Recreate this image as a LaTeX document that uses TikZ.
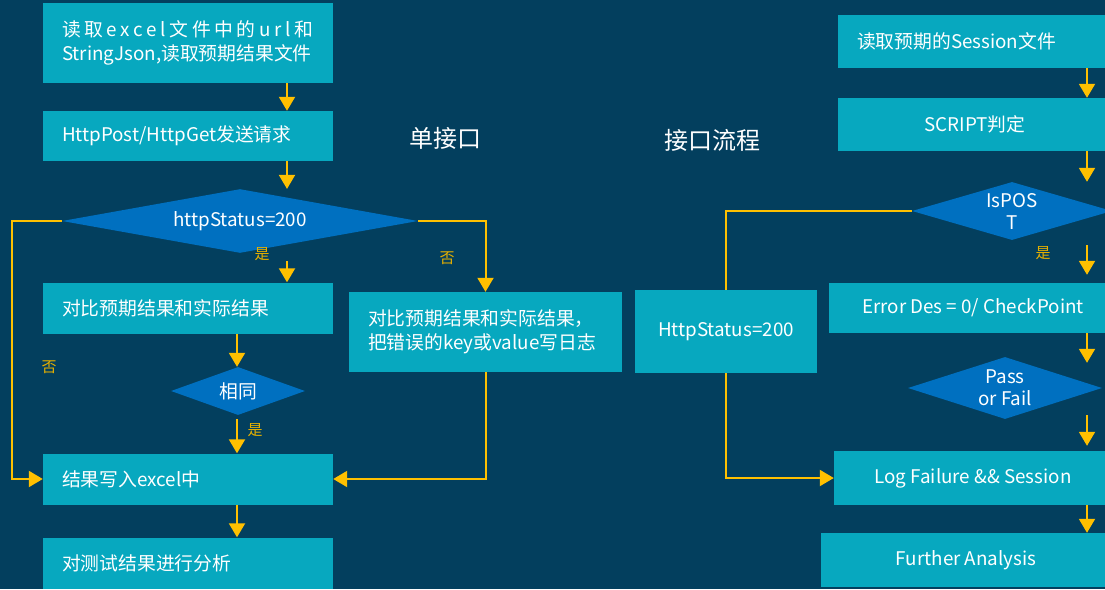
\documentclass[tikz,border=0pt]{standalone}
\usepackage{fontspec}
\setmainfont{Noto Sans CJK SC}
\usetikzlibrary{shapes.geometric,arrows.meta}
\definecolor{bgc}{HTML}{033F5E}
\definecolor{boxc}{HTML}{07A8BF}
\definecolor{diac}{HTML}{0070C0}
\definecolor{arrc}{HTML}{FFC000}
\definecolor{labc}{HTML}{E6B000}
\begin{document}
\begin{tikzpicture}[x=1pt,y=-1pt,
    box/.style={fill=boxc,text=white,inner xsep=19pt,inner ysep=0pt,font=\fontsize{18.8}{24}\selectfont},
    lbox/.style={box,align=left,text width=#1-38pt,minimum width=#1},
    cbox/.style={box,align=center,minimum width=#1},
    dia/.style={diamond,fill=diac,text=white,inner sep=0pt,aspect=3,align=center,font=\fontsize{18.8}{22}\selectfont},
    lab/.style={text=labc,font=\fontsize{15}{15}\selectfont},
    ttl/.style={text=white,font=\fontsize{24}{24}\selectfont},
    arr/.style={draw=arrc,line width=2pt,-{Triangle[width=16pt,length=14pt]}},
    lin/.style={draw=arrc,line width=2pt}]
    % background
    \fill[bgc] (0,0) rectangle (1105,589);
    \useasboundingbox (0,0) rectangle (1105,589);
    % x positions of the vertical arrows
    \coordinate (la) at (287,0);
    \coordinate (lb) at (237,0);
    \coordinate (ra) at (1087,0);
    % single interface
    \node[lbox=290pt,minimum height=80pt] (b1) at (188,43)
        {\makebox[251pt][s]{读\hfill 取\hfill e\hfill x\hfill c\hfill e\hfill l\hfill 文\hfill 件\hfill 中\hfill 的\hfill u\hfill r\hfill l\hfill 和}\\StringJson,读取预期结果文件};
    \node[lbox=290pt,minimum height=50pt] (b2) at (188,136) {HttpPost/HttpGet发送请求};
    \node[dia,minimum width=356pt,minimum height=52pt] (d1) at (240,221) {httpStatus=200};
    \node[lbox=290pt,minimum height=51pt] (b3) at (188,308) {对比预期结果和实际结果};
    \node[dia,minimum width=134pt,minimum height=48pt] (d2) at (238,391) {相同};
    \node[lbox=290pt,minimum height=51pt] (b4) at (188,479) {结果写入excel中};
    \node[lbox=290pt,minimum height=51pt] (b5) at (188,563) {对测试结果进行分析};
    \node[lbox=273pt,minimum height=80pt] (b6) at (485.5,332)
        {对比预期结果和实际结果，\\把错误的key或value写日志};
    \node[ttl] (t1) at (445,138) {单接口};
    \node[ttl] (t2) at (712,140) {接口流程};
    % interface flow
    \node[lbox=274pt,minimum height=53pt] (r1) at (975,41.5) {读取预期的Session文件};
    \node[cbox=274pt,minimum height=53pt] (r2) at (975,124.5) {SCRIPT判定};
    \node[dia,minimum width=200pt,minimum height=58pt] (d3) at (1012,211) {IsPOS\\T};
    \node[cbox=288pt,minimum height=50pt] (r3) at (973,308) {Error Des = 0/ CheckPoint};
    \node[dia,minimum width=194pt,minimum height=62pt] (d4) at (1005,388) {Pass\\or Fail};
    \node[cbox=278pt,minimum height=54pt] (r4) at (973,478) {Log Failure \&\& Session};
    \node[cbox=290pt,minimum height=54pt] (r5) at (966,560) {Further Analysis};
    \node[cbox=182pt,minimum height=83pt] (hs) at (726,331.5) {HttpStatus=200};
    % labels
    \node[lab] (y1) at (262,254) {是};
    \node[lab] (n1) at (447,258) {否};
    \node[lab] (n2) at (49,367) {否};
    \node[lab] (y2) at (255,430) {是};
    \node[lab] (y3) at (1043,253) {是};
    % arrows, left
    \draw[arr] (b1.south -| la) -- (b2.north -| la);
    \draw[arr] (b2.south -| la) -- (d1.north -| la);
    \draw[arr,shorten <=8pt] (d1.south -| la) -- (b3.north -| la);
    \draw[arr] (b3.south -| lb) -- (d2.north -| lb);
    \draw[arr,shorten <=4pt] (d2.south -| lb) -- (b4.north -| lb);
    \draw[arr] (b4.south -| lb) -- (b5.north -| lb);
    \draw[arr] (d1.west) -- ++(-50,0) |- (b4.west);
    \draw[arr] (d1.east) -| (b6.north);
    \draw[arr] (b6.south) |- (b4.east);
    % arrows, right
    \draw[arr] (r1.south -| ra) -- (r2.north -| ra);
    \draw[arr] (r2.south -| ra) -- (d3.north -| ra);
    \draw[arr,shorten <=5pt,shorten >=8pt] (d3.south -| ra) -- (r3.north -| ra);
    \draw[arr,shorten >=-6pt] (r3.south -| ra) -- (d4.north -| ra);
    \draw[arr,shorten <=-4pt,shorten >=5pt] (d4.south -| ra) -- (r4.north -| ra);
    \draw[arr] (r4.south -| ra) -- (r5.north -| ra);
    \draw[lin] (d3.west) -| (hs.north);
    \draw[arr] (hs.south) |- (r4.west);
\end{tikzpicture}
\end{document}
